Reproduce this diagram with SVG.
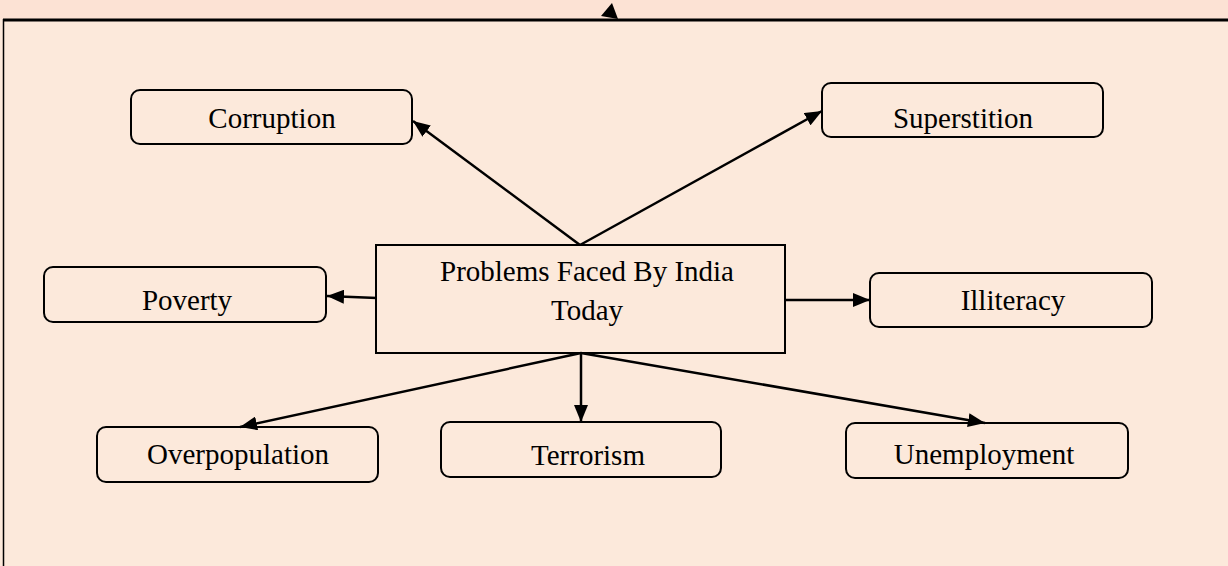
<svg xmlns="http://www.w3.org/2000/svg" width="1228" height="566" viewBox="0 0 1228 566">
<style>
.box{fill:none;stroke:#000;stroke-width:2}
.lbl{font-family:"Liberation Serif","Times New Roman",serif;font-size:29px;fill:#000;text-anchor:middle}
.con{stroke:#000;stroke-width:2.5;fill:none;marker-end:url(#ah)}
</style>
<defs>
<marker id="ah" markerUnits="userSpaceOnUse" markerWidth="18" markerHeight="14" refX="17" refY="7" orient="auto">
<path d="M0,0 L17,7 L0,14 z" fill="#000"/>
</marker>
</defs>
<rect x="0" y="0" width="1228" height="566" fill="#FCE9DB"/>
<rect x="0" y="0" width="1228" height="19" fill="#FCE2D4"/>
<g id="frame">
<line x1="3" y1="20" x2="1228" y2="20" stroke="#000" stroke-width="3"/>
<line x1="3.5" y1="19" x2="3.5" y2="566" stroke="#000" stroke-width="1.5"/>
</g>
<g id="connectors">
<polygon points="612,3 601,16 618,19" fill="#000"/>
<line class="con" x1="580" y1="245" x2="413" y2="121"/>
<line class="con" x1="580" y1="245" x2="822" y2="111"/>
<line class="con" x1="377" y1="298" x2="327" y2="296"/>
<line class="con" x1="784" y1="300" x2="870" y2="300"/>
<line class="con" x1="581" y1="353" x2="240" y2="427"/>
<line class="con" x1="581" y1="353" x2="581" y2="422"/>
<line class="con" x1="581" y1="353" x2="985" y2="423"/>
</g>
<g id="center">
<rect class="box" x="376" y="245" width="409" height="108"/>
<text class="lbl" x="587" y="281">Problems Faced By India</text>
<text class="lbl" x="587" y="320">Today</text>
</g>
<g id="corruption">
<rect class="box" x="131" y="90" width="281" height="54" rx="9"/>
<text class="lbl" x="272" y="128">Corruption</text>
</g>
<g id="superstition">
<rect class="box" x="822" y="83" width="281" height="54" rx="9"/>
<text class="lbl" x="963" y="128">Superstition</text>
</g>
<g id="poverty">
<rect class="box" x="44" y="267" width="282" height="55" rx="9"/>
<text class="lbl" x="187" y="310">Poverty</text>
</g>
<g id="illiteracy">
<rect class="box" x="870" y="273" width="282" height="54" rx="9"/>
<text class="lbl" x="1013" y="310">Illiteracy</text>
</g>
<g id="overpopulation">
<rect class="box" x="97" y="427" width="281" height="55" rx="9"/>
<text class="lbl" x="238" y="464">Overpopulation</text>
</g>
<g id="terrorism">
<rect class="box" x="441" y="422" width="280" height="55" rx="9"/>
<text class="lbl" x="588" y="465">Terrorism</text>
</g>
<g id="unemployment">
<rect class="box" x="846" y="423" width="282" height="55" rx="9"/>
<text class="lbl" x="984" y="464">Unemployment</text>
</g>
</svg>
